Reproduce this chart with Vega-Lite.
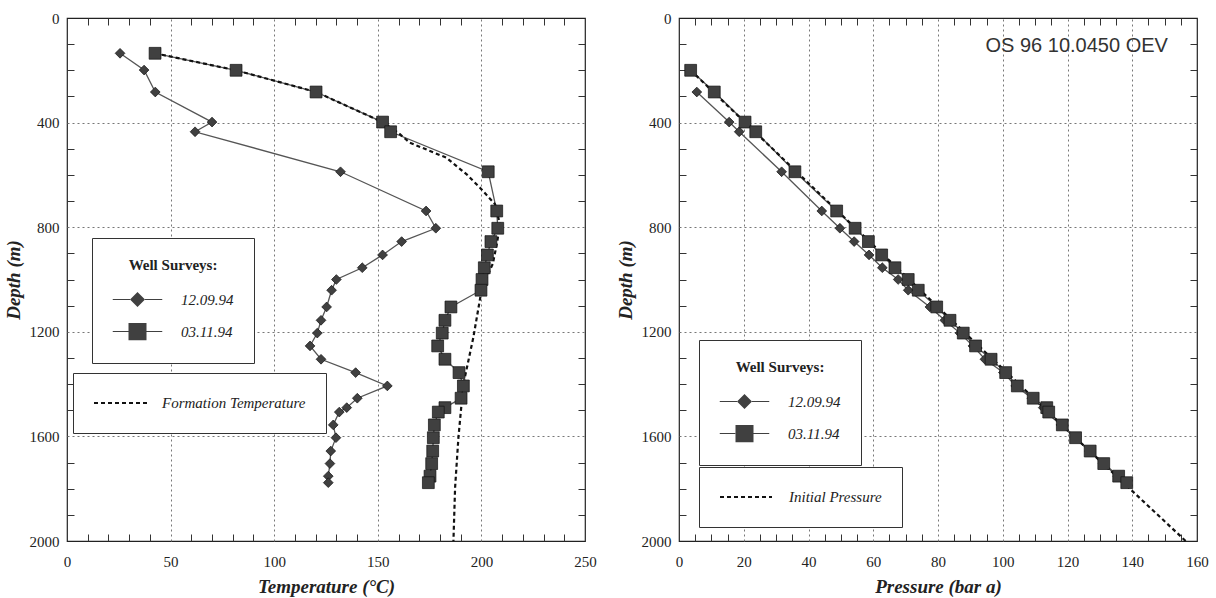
{
  "$schema": "https://vega.github.io/schema/vega-lite/v6.json",
  "background": "white",
  "padding": {"left": 3, "top": 10, "right": 5, "bottom": 0},
  "bounds": "flush",
  "spacing": 94,
  "datasets": {
    "temp": [
      {"survey": "12.09.94", "depth": 135, "T": 25.6},
      {"survey": "12.09.94", "depth": 199, "T": 37.2},
      {"survey": "12.09.94", "depth": 283, "T": 42.6},
      {"survey": "12.09.94", "depth": 398, "T": 70},
      {"survey": "12.09.94", "depth": 435, "T": 61.8},
      {"survey": "12.09.94", "depth": 588, "T": 132},
      {"survey": "12.09.94", "depth": 738, "T": 173.3},
      {"survey": "12.09.94", "depth": 804, "T": 178},
      {"survey": "12.09.94", "depth": 855, "T": 161.5},
      {"survey": "12.09.94", "depth": 906, "T": 152.3},
      {"survey": "12.09.94", "depth": 955, "T": 142.5},
      {"survey": "12.09.94", "depth": 1000, "T": 130},
      {"survey": "12.09.94", "depth": 1041, "T": 127.7},
      {"survey": "12.09.94", "depth": 1105, "T": 125.3},
      {"survey": "12.09.94", "depth": 1156, "T": 122.6},
      {"survey": "12.09.94", "depth": 1205, "T": 120.8},
      {"survey": "12.09.94", "depth": 1254, "T": 117.3},
      {"survey": "12.09.94", "depth": 1305, "T": 122.6},
      {"survey": "12.09.94", "depth": 1356, "T": 139.3},
      {"survey": "12.09.94", "depth": 1407, "T": 154.6},
      {"survey": "12.09.94", "depth": 1454, "T": 140.1},
      {"survey": "12.09.94", "depth": 1490, "T": 135},
      {"survey": "12.09.94", "depth": 1507, "T": 131.4},
      {"survey": "12.09.94", "depth": 1556, "T": 128.5},
      {"survey": "12.09.94", "depth": 1605, "T": 129.8},
      {"survey": "12.09.94", "depth": 1656, "T": 127.3},
      {"survey": "12.09.94", "depth": 1704, "T": 126.9},
      {"survey": "12.09.94", "depth": 1752, "T": 126.1},
      {"survey": "12.09.94", "depth": 1777, "T": 126.1},
      {"survey": "03.11.94", "depth": 135, "T": 42.5},
      {"survey": "03.11.94", "depth": 200, "T": 81.6},
      {"survey": "03.11.94", "depth": 283, "T": 120.2},
      {"survey": "03.11.94", "depth": 398, "T": 152.3},
      {"survey": "03.11.94", "depth": 435, "T": 156.2},
      {"survey": "03.11.94", "depth": 588, "T": 203.3},
      {"survey": "03.11.94", "depth": 738, "T": 207.4},
      {"survey": "03.11.94", "depth": 804, "T": 207.9},
      {"survey": "03.11.94", "depth": 855, "T": 204.6},
      {"survey": "03.11.94", "depth": 906, "T": 202.9},
      {"survey": "03.11.94", "depth": 955, "T": 201.4},
      {"survey": "03.11.94", "depth": 1000, "T": 200.3},
      {"survey": "03.11.94", "depth": 1041, "T": 199.8},
      {"survey": "03.11.94", "depth": 1105, "T": 185.3},
      {"survey": "03.11.94", "depth": 1156, "T": 182.4},
      {"survey": "03.11.94", "depth": 1205, "T": 181.1},
      {"survey": "03.11.94", "depth": 1254, "T": 178.9},
      {"survey": "03.11.94", "depth": 1305, "T": 182.4},
      {"survey": "03.11.94", "depth": 1356, "T": 189.2},
      {"survey": "03.11.94", "depth": 1407, "T": 191.3},
      {"survey": "03.11.94", "depth": 1454, "T": 190.2},
      {"survey": "03.11.94", "depth": 1490, "T": 182.4},
      {"survey": "03.11.94", "depth": 1507, "T": 179.2},
      {"survey": "03.11.94", "depth": 1556, "T": 177.3},
      {"survey": "03.11.94", "depth": 1605, "T": 176.8},
      {"survey": "03.11.94", "depth": 1656, "T": 176.5},
      {"survey": "03.11.94", "depth": 1704, "T": 176},
      {"survey": "03.11.94", "depth": 1752, "T": 175.2},
      {"survey": "03.11.94", "depth": 1777, "T": 174.4}
    ],
    "formation": [
      {"series": "Formation Temperature", "depth": 135, "T": 42.5},
      {"series": "Formation Temperature", "depth": 200, "T": 81.6},
      {"series": "Formation Temperature", "depth": 283, "T": 120.2},
      {"series": "Formation Temperature", "depth": 398, "T": 152.3},
      {"series": "Formation Temperature", "depth": 440, "T": 160},
      {"series": "Formation Temperature", "depth": 477, "T": 165.5},
      {"series": "Formation Temperature", "depth": 534, "T": 183},
      {"series": "Formation Temperature", "depth": 598, "T": 192.9},
      {"series": "Formation Temperature", "depth": 649, "T": 199.3},
      {"series": "Formation Temperature", "depth": 712, "T": 206.6},
      {"series": "Formation Temperature", "depth": 790, "T": 209},
      {"series": "Formation Temperature", "depth": 866, "T": 207.4},
      {"series": "Formation Temperature", "depth": 940, "T": 205.5},
      {"series": "Formation Temperature", "depth": 1000, "T": 202},
      {"series": "Formation Temperature", "depth": 1044, "T": 200},
      {"series": "Formation Temperature", "depth": 1222, "T": 196.1},
      {"series": "Formation Temperature", "depth": 1401, "T": 191.3},
      {"series": "Formation Temperature", "depth": 1605, "T": 188.9},
      {"series": "Formation Temperature", "depth": 1796, "T": 187.3},
      {"series": "Formation Temperature", "depth": 2000, "T": 186.5}
    ],
    "press": [
      {"survey": "12.09.94", "depth": 283, "P": 5.5},
      {"survey": "12.09.94", "depth": 398, "P": 15.5},
      {"survey": "12.09.94", "depth": 435, "P": 18.6},
      {"survey": "12.09.94", "depth": 588, "P": 31.7},
      {"survey": "12.09.94", "depth": 738, "P": 44.1},
      {"survey": "12.09.94", "depth": 804, "P": 49.7},
      {"survey": "12.09.94", "depth": 855, "P": 54.1},
      {"survey": "12.09.94", "depth": 906, "P": 58.7},
      {"survey": "12.09.94", "depth": 955, "P": 62.8},
      {"survey": "12.09.94", "depth": 1000, "P": 67.7},
      {"survey": "12.09.94", "depth": 1041, "P": 70.8},
      {"survey": "12.09.94", "depth": 1105, "P": 77.5},
      {"survey": "12.09.94", "depth": 1156, "P": 82.1},
      {"survey": "12.09.94", "depth": 1205, "P": 86.8},
      {"survey": "12.09.94", "depth": 1254, "P": 90.8},
      {"survey": "12.09.94", "depth": 1305, "P": 94.5},
      {"survey": "12.09.94", "depth": 1356, "P": 100.2},
      {"survey": "12.09.94", "depth": 1407, "P": 104},
      {"survey": "12.09.94", "depth": 1454, "P": 109},
      {"survey": "12.09.94", "depth": 1490, "P": 112.5},
      {"survey": "12.09.94", "depth": 1507, "P": 113.3},
      {"survey": "12.09.94", "depth": 1556, "P": 118},
      {"survey": "12.09.94", "depth": 1605, "P": 122.2},
      {"survey": "12.09.94", "depth": 1656, "P": 126.8},
      {"survey": "12.09.94", "depth": 1704, "P": 131},
      {"survey": "12.09.94", "depth": 1752, "P": 135.5},
      {"survey": "12.09.94", "depth": 1777, "P": 138},
      {"survey": "03.11.94", "depth": 200, "P": 3.6},
      {"survey": "03.11.94", "depth": 283, "P": 10.9},
      {"survey": "03.11.94", "depth": 398, "P": 20.4},
      {"survey": "03.11.94", "depth": 435, "P": 23.7},
      {"survey": "03.11.94", "depth": 588, "P": 35.8},
      {"survey": "03.11.94", "depth": 738, "P": 48.7},
      {"survey": "03.11.94", "depth": 804, "P": 54.4},
      {"survey": "03.11.94", "depth": 855, "P": 58.5},
      {"survey": "03.11.94", "depth": 906, "P": 62.6},
      {"survey": "03.11.94", "depth": 955, "P": 66.7},
      {"survey": "03.11.94", "depth": 1000, "P": 70.8},
      {"survey": "03.11.94", "depth": 1041, "P": 73.9},
      {"survey": "03.11.94", "depth": 1105, "P": 79.6},
      {"survey": "03.11.94", "depth": 1156, "P": 83.7},
      {"survey": "03.11.94", "depth": 1205, "P": 87.8},
      {"survey": "03.11.94", "depth": 1254, "P": 91.6},
      {"survey": "03.11.94", "depth": 1305, "P": 96.4},
      {"survey": "03.11.94", "depth": 1356, "P": 100.9},
      {"survey": "03.11.94", "depth": 1407, "P": 104.5},
      {"survey": "03.11.94", "depth": 1454, "P": 109.4},
      {"survey": "03.11.94", "depth": 1490, "P": 113.6},
      {"survey": "03.11.94", "depth": 1507, "P": 114.2},
      {"survey": "03.11.94", "depth": 1556, "P": 118.4},
      {"survey": "03.11.94", "depth": 1605, "P": 122.5},
      {"survey": "03.11.94", "depth": 1656, "P": 127},
      {"survey": "03.11.94", "depth": 1704, "P": 131.2},
      {"survey": "03.11.94", "depth": 1752, "P": 135.8},
      {"survey": "03.11.94", "depth": 1777, "P": 138.3}
    ],
    "initial": [
      {"series": "Initial Pressure", "depth": 200, "P": 3.6},
      {"series": "Initial Pressure", "depth": 800, "P": 54.2},
      {"series": "Initial Pressure", "depth": 1200, "P": 88},
      {"series": "Initial Pressure", "depth": 1600, "P": 122},
      {"series": "Initial Pressure", "depth": 2000, "P": 156.5}
    ]
  },
  "hconcat": [
    {
      "width": 518,
      "height": 523,
      "layer": [
        {
          "data": {"name": "temp"},
          "mark": {"type": "line", "color": "#555555", "strokeWidth": 1.3},
          "encoding": {
            "x": {"field": "T", "type": "quantitative", "scale": {"domain": [0, 250], "nice": false, "zero": false},
              "axis": {"orient": "bottom", "values": [0,10,20,30,40,50,60,70,80,90,100,110,120,130,140,150,160,170,180,190,200,210,220,230,240,250],
                "format": "d", "labelExpr": "datum.value % 50 === 0 ? datum.label : ''", "labelFlush": false, "labelOverlap": false,
                "labelFont": "Liberation Serif", "labelFontSize": 15, "labelColor": "#222", "labelPadding": 20,
                "tickSize": -7, "tickColor": "#333", "tickWidth": 1,
                "tickOpacity": {"condition": {"test": "datum.value % 50 === 0", "value": 0}, "value": 1},
                "grid": true, "gridColor": "#777", "gridDash": [2, 3], "gridWidth": 1,
                "gridOpacity": {"condition": {"test": "datum.value % 50 === 0 && datum.value > 0 && datum.value < 250", "value": 1}, "value": 0},
                "domain": false, "title": "Temperature (°C)", "titleFont": "Liberation Serif", "titleFontSize": 19,
                "titleFontStyle": "italic", "titleFontWeight": "bold", "titleColor": "#222", "titlePadding": 8}},
            "y": {"field": "depth", "type": "quantitative", "scale": {"domain": [0, 2000], "reverse": true, "nice": false, "zero": false},
              "axis": {"orient": "left", "values": [0,100,200,300,400,500,600,700,800,900,1000,1100,1200,1300,1400,1500,1600,1700,1800,1900,2000],
                "format": "d", "labelExpr": "datum.value % 400 === 0 ? datum.label : ''", "labelFlush": false, "labelOverlap": false,
                "labelFont": "Liberation Serif", "labelFontSize": 15, "labelColor": "#222", "labelPadding": 15,
                "tickSize": -7, "tickColor": "#333", "tickWidth": 1,
                "tickOpacity": {"condition": {"test": "datum.value % 400 === 0", "value": 0}, "value": 1},
                "grid": true, "gridColor": "#777", "gridDash": [2, 3], "gridWidth": 1,
                "gridOpacity": {"condition": {"test": "datum.value % 400 === 0 && datum.value > 0 && datum.value < 2000", "value": 1}, "value": 0},
                "domain": false, "title": "Depth (m)", "titleFont": "Liberation Serif", "titleFontSize": 19,
                "titleFontStyle": "italic", "titleFontWeight": "bold", "titleColor": "#222", "titlePadding": 6}},
            "detail": {"field": "survey", "type": "nominal"},
            "order": {"field": "depth", "type": "quantitative"}
          }
        },
        {
          "data": {"name": "formation"},
          "mark": {"type": "line", "color": "#111111", "strokeWidth": 2.2},
          "encoding": {
            "x": {"field": "T", "type": "quantitative",
              "axis": {"orient": "top", "values": [0,10,20,30,40,50,60,70,80,90,100,110,120,130,140,150,160,170,180,190,200,210,220,230,240,250],
                "labels": false, "tickSize": -7, "tickColor": "#333", "tickWidth": 1,
                "tickOpacity": {"condition": {"test": "datum.value % 50 === 0", "value": 0}, "value": 1},
                "grid": false, "domain": false, "title": null}},
            "y": {"field": "depth", "type": "quantitative",
              "axis": {"orient": "right", "values": [0,100,200,300,400,500,600,700,800,900,1000,1100,1200,1300,1400,1500,1600,1700,1800,1900,2000],
                "labels": false, "tickSize": -7, "tickColor": "#333", "tickWidth": 1,
                "tickOpacity": {"condition": {"test": "datum.value % 400 === 0", "value": 0}, "value": 1},
                "grid": false, "domain": false, "title": null}},
            "order": {"field": "depth", "type": "quantitative"},
            "strokeDash": {"field": "series", "type": "nominal", "scale": {"domain": ["Formation Temperature"], "range": [[4, 3]]},
              "legend": {"title": null, "orient": "none", "legendX": 6, "legendY": 355, "strokeColor": "#333", "fillColor": "white",
                "padding": 20, "symbolType": "stroke", "symbolSize": 2809, "symbolStrokeWidth": 2, "symbolStrokeColor": "#111",
                "clipHeight": 20, "labelFont": "Liberation Serif", "labelFontStyle": "italic", "labelFontSize": 15, "labelColor": "#222",
                "labelOffset": 14, "labelLimit": 400}}
          }
        },
        {
          "data": {"name": "temp"},
          "transform": [{"filter": "datum.survey === '12.09.94'"}],
          "mark": {"type": "point", "shape": "diamond", "filled": true, "color": "#404040", "stroke": "#111111", "strokeWidth": 0.7, "opacity": 1, "size": 95},
          "encoding": {
            "x": {"field": "T", "type": "quantitative", "axis": null},
            "y": {"field": "depth", "type": "quantitative", "axis": null}
          }
        },
        {
          "data": {"name": "temp"},
          "transform": [{"filter": "datum.survey === '03.11.94'"}],
          "mark": {"type": "point", "shape": "square", "filled": true, "color": "#404040", "stroke": "#111111", "strokeWidth": 0.7, "opacity": 1, "size": 140},
          "encoding": {
            "x": {"field": "T", "type": "quantitative", "axis": null},
            "y": {"field": "depth", "type": "quantitative", "axis": null}
          }
        },
        {
          "data": {"name": "temp"},
          "transform": [{"filter": "datum.depth < 0"}],
          "mark": {"type": "point", "filled": true, "fill": "#404040", "stroke": "#4a4a4a", "strokeWidth": 1.2, "opacity": 1},
          "encoding": {
            "x": {"field": "T", "type": "quantitative", "axis": null},
            "y": {"field": "depth", "type": "quantitative", "axis": null},
            "shape": {"field": "survey", "type": "nominal",
              "scale": {"domain": ["12.09.94", "03.11.94"], "range": ["M-3.3,-0.08H-1V0.08H-3.3ZM1,-0.08H3.3V0.08H1ZM0,-1L1,0L0,1L-1,0Z", "M-3.3,-0.08H-1.2V0.08H-3.3ZM1.2,-0.08H3.3V0.08H1.2ZM-1.2,-1.15H1.2V1.15H-1.2Z"]},
              "legend": {"title": "Well Surveys:", "orient": "none", "legendX": 25, "legendY": 220, "direction": "vertical",
                "strokeColor": "#333", "fillColor": "white", "padding": 20,
                "titleFont": "Liberation Serif", "titleFontSize": 15, "titleFontWeight": "bold", "titleColor": "#222", "titleAnchor": "middle", "titlePadding": 18,
                "labelFont": "Liberation Serif", "labelFontStyle": "italic", "labelFontSize": 15, "labelColor": "#222", "labelOffset": 35,
                "symbolSize": 225, "symbolOffset": 17, "rowPadding": 10, "symbolOpacity": 1,
                "symbolFillColor": "#404040", "symbolStrokeColor": "#4a4a4a", "symbolStrokeWidth": 1.2}}
          }
        }
      ],
      "resolve": {"axis": {"x": "independent", "y": "independent"}}
    },
    {
      "width": 518,
      "height": 523,
      "layer": [
        {
          "data": {"name": "press"},
          "mark": {"type": "line", "color": "#555555", "strokeWidth": 1.3},
          "encoding": {
            "x": {"field": "P", "type": "quantitative", "scale": {"domain": [0, 160], "nice": false, "zero": false},
              "axis": {"orient": "bottom", "values": [0,5,10,15,20,25,30,35,40,45,50,55,60,65,70,75,80,85,90,95,100,105,110,115,120,125,130,135,140,145,150,155,160],
                "format": "d", "labelExpr": "datum.value % 20 === 0 ? datum.label : ''", "labelFlush": false, "labelOverlap": false,
                "labelFont": "Liberation Serif", "labelFontSize": 15, "labelColor": "#222", "labelPadding": 20,
                "tickSize": -7, "tickColor": "#333", "tickWidth": 1,
                "tickOpacity": {"condition": {"test": "datum.value % 20 === 0", "value": 0}, "value": 1},
                "grid": true, "gridColor": "#777", "gridDash": [2, 3], "gridWidth": 1,
                "gridOpacity": {"condition": {"test": "datum.value % 20 === 0 && datum.value > 0 && datum.value < 160", "value": 1}, "value": 0},
                "domain": false, "title": "Pressure (bar a)", "titleFont": "Liberation Serif", "titleFontSize": 19,
                "titleFontStyle": "italic", "titleFontWeight": "bold", "titleColor": "#222", "titlePadding": 8}},
            "y": {"field": "depth", "type": "quantitative", "scale": {"domain": [0, 2000], "reverse": true, "nice": false, "zero": false},
              "axis": {"orient": "left", "values": [0,100,200,300,400,500,600,700,800,900,1000,1100,1200,1300,1400,1500,1600,1700,1800,1900,2000],
                "format": "d", "labelExpr": "datum.value % 400 === 0 ? datum.label : ''", "labelFlush": false, "labelOverlap": false,
                "labelFont": "Liberation Serif", "labelFontSize": 15, "labelColor": "#222", "labelPadding": 15,
                "tickSize": -7, "tickColor": "#333", "tickWidth": 1,
                "tickOpacity": {"condition": {"test": "datum.value % 400 === 0", "value": 0}, "value": 1},
                "grid": true, "gridColor": "#777", "gridDash": [2, 3], "gridWidth": 1,
                "gridOpacity": {"condition": {"test": "datum.value % 400 === 0 && datum.value > 0 && datum.value < 2000", "value": 1}, "value": 0},
                "domain": false, "title": "Depth (m)", "titleFont": "Liberation Serif", "titleFontSize": 19,
                "titleFontStyle": "italic", "titleFontWeight": "bold", "titleColor": "#222", "titlePadding": 6}},
            "detail": {"field": "survey", "type": "nominal"},
            "order": {"field": "depth", "type": "quantitative"}
          }
        },
        {
          "data": {"name": "initial"},
          "mark": {"type": "line", "color": "#111111", "strokeWidth": 2.2},
          "encoding": {
            "x": {"field": "P", "type": "quantitative",
              "axis": {"orient": "top", "values": [0,5,10,15,20,25,30,35,40,45,50,55,60,65,70,75,80,85,90,95,100,105,110,115,120,125,130,135,140,145,150,155,160],
                "labels": false, "tickSize": -7, "tickColor": "#333", "tickWidth": 1,
                "tickOpacity": {"condition": {"test": "datum.value % 20 === 0", "value": 0}, "value": 1},
                "grid": false, "domain": false, "title": null}},
            "y": {"field": "depth", "type": "quantitative",
              "axis": {"orient": "right", "values": [0,100,200,300,400,500,600,700,800,900,1000,1100,1200,1300,1400,1500,1600,1700,1800,1900,2000],
                "labels": false, "tickSize": -7, "tickColor": "#333", "tickWidth": 1,
                "tickOpacity": {"condition": {"test": "datum.value % 400 === 0", "value": 0}, "value": 1},
                "grid": false, "domain": false, "title": null}},
            "order": {"field": "depth", "type": "quantitative"},
            "strokeDash": {"field": "series", "type": "nominal", "scale": {"domain": ["Initial Pressure"], "range": [[4, 3]]},
              "legend": {"title": null, "orient": "none", "legendX": 20, "legendY": 449, "strokeColor": "#333", "fillColor": "white",
                "padding": 20, "symbolType": "stroke", "symbolSize": 2704, "symbolStrokeWidth": 2, "symbolStrokeColor": "#111",
                "clipHeight": 20, "labelFont": "Liberation Serif", "labelFontStyle": "italic", "labelFontSize": 15, "labelColor": "#222",
                "labelOffset": 16, "labelLimit": 400}}
          }
        },
        {
          "data": {"name": "press"},
          "transform": [{"filter": "datum.survey === '12.09.94'"}],
          "mark": {"type": "point", "shape": "diamond", "filled": true, "color": "#404040", "stroke": "#111111", "strokeWidth": 0.7, "opacity": 1, "size": 95},
          "encoding": {
            "x": {"field": "P", "type": "quantitative", "axis": null},
            "y": {"field": "depth", "type": "quantitative", "axis": null}
          }
        },
        {
          "data": {"name": "press"},
          "transform": [{"filter": "datum.survey === '03.11.94'"}],
          "mark": {"type": "point", "shape": "square", "filled": true, "color": "#404040", "stroke": "#111111", "strokeWidth": 0.7, "opacity": 1, "size": 140},
          "encoding": {
            "x": {"field": "P", "type": "quantitative", "axis": null},
            "y": {"field": "depth", "type": "quantitative", "axis": null}
          }
        },
        {
          "data": {"name": "press"},
          "transform": [{"filter": "datum.depth < 0"}],
          "mark": {"type": "point", "filled": true, "fill": "#404040", "stroke": "#4a4a4a", "strokeWidth": 1.2, "opacity": 1},
          "encoding": {
            "x": {"field": "P", "type": "quantitative", "axis": null},
            "y": {"field": "depth", "type": "quantitative", "axis": null},
            "shape": {"field": "survey", "type": "nominal",
              "scale": {"domain": ["12.09.94", "03.11.94"], "range": ["M-3.3,-0.08H-1V0.08H-3.3ZM1,-0.08H3.3V0.08H1ZM0,-1L1,0L0,1L-1,0Z", "M-3.3,-0.08H-1.2V0.08H-3.3ZM1.2,-0.08H3.3V0.08H1.2ZM-1.2,-1.15H1.2V1.15H-1.2Z"]},
              "legend": {"title": "Well Surveys:", "orient": "none", "legendX": 20, "legendY": 322, "direction": "vertical",
                "strokeColor": "#333", "fillColor": "white", "padding": 20,
                "titleFont": "Liberation Serif", "titleFontSize": 15, "titleFontWeight": "bold", "titleColor": "#222", "titleAnchor": "middle", "titlePadding": 18,
                "labelFont": "Liberation Serif", "labelFontStyle": "italic", "labelFontSize": 15, "labelColor": "#222", "labelOffset": 35,
                "symbolSize": 225, "symbolOffset": 17, "rowPadding": 10, "symbolOpacity": 1,
                "symbolFillColor": "#404040", "symbolStrokeColor": "#4a4a4a", "symbolStrokeWidth": 1.2}}
          }
        },
        {
          "data": {"values": [{"label": "OS 96 10.0450 OEV"}]},
          "mark": {"type": "text", "align": "right", "baseline": "middle", "font": "Liberation Sans", "fontSize": 20, "color": "#333"},
          "encoding": {
            "x": {"datum": 151, "type": "quantitative", "axis": null},
            "y": {"datum": 107, "type": "quantitative", "axis": null},
            "text": {"field": "label", "type": "nominal"}
          }
        }
      ],
      "resolve": {"axis": {"x": "independent", "y": "independent"}}
    }
  ],
  "resolve": {
    "scale": {"x": "independent", "y": "independent", "shape": "independent", "strokeDash": "independent"},
    "legend": {"shape": "independent", "strokeDash": "independent"}
  },
  "config": {
    "view": {"stroke": "#222", "strokeWidth": 1.2},
    "font": "Liberation Serif"
  }
}
